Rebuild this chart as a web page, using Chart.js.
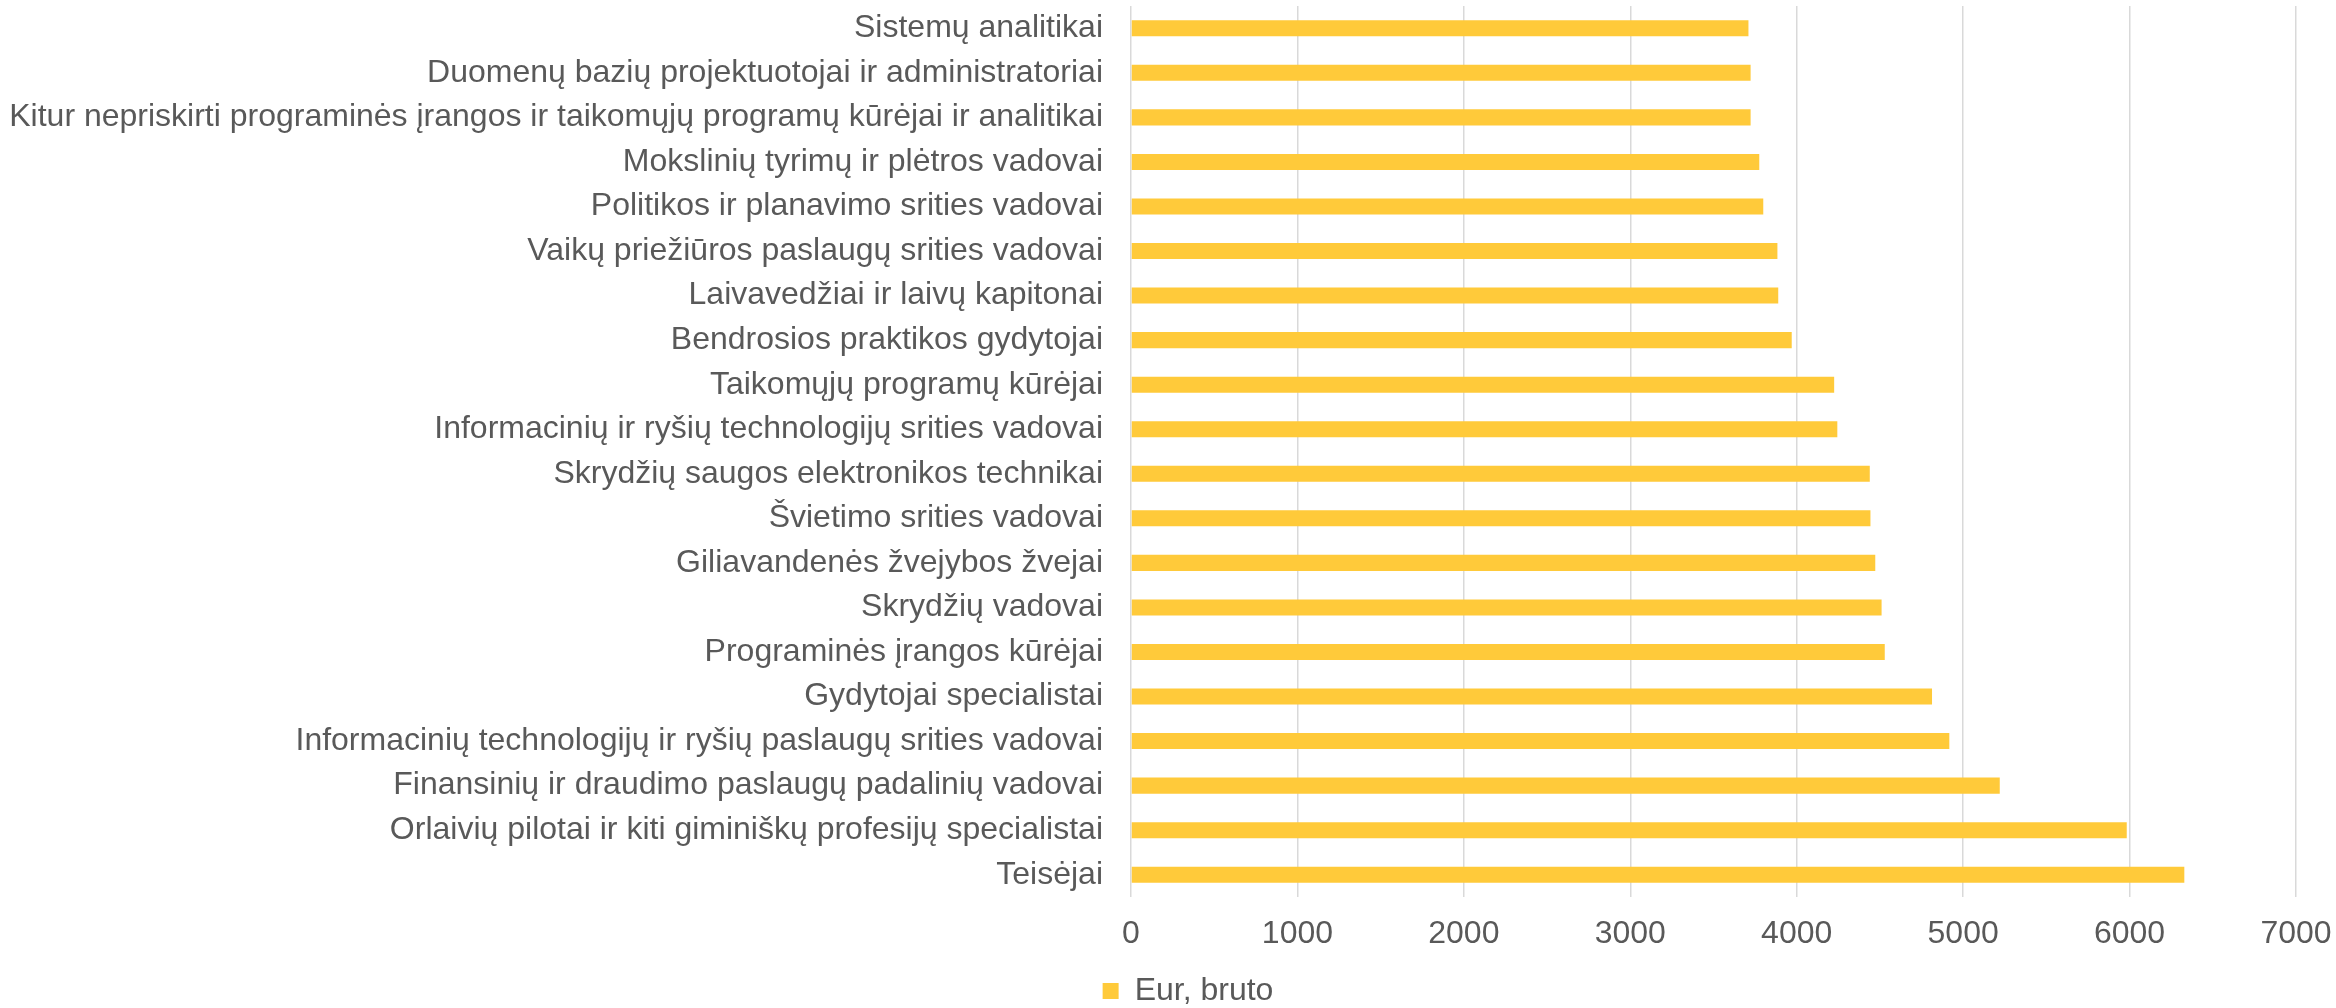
<!DOCTYPE html>
<html>
<head>
<meta charset="utf-8">
<script src="https://cdn.jsdelivr.net/npm/chart.js@4"></script>
<style>
  html, body { margin: 0; padding: 0; background: #ffffff; }
  #wrap { width: 2336px; height: 1008px; position: relative; }
</style>
</head>
<body>
<div id="wrap"><canvas id="c" width="2336" height="1008"></canvas></div>
<script>
const categories = [
  "Sistemų analitikai",
  "Duomenų bazių projektuotojai ir administratoriai",
  "Kitur nepriskirti programinės įrangos ir taikomųjų programų kūrėjai ir analitikai",
  "Mokslinių tyrimų ir plėtros vadovai",
  "Politikos ir planavimo srities vadovai",
  "Vaikų priežiūros paslaugų srities vadovai",
  "Laivavedžiai ir laivų kapitonai",
  "Bendrosios praktikos gydytojai",
  "Taikomųjų programų kūrėjai",
  "Informacinių ir ryšių technologijų srities vadovai",
  "Skrydžių saugos elektronikos technikai",
  "Švietimo srities vadovai",
  "Giliavandenės žvejybos žvejai",
  "Skrydžių vadovai",
  "Programinės įrangos kūrėjai",
  "Gydytojai specialistai",
  "Informacinių technologijų ir ryšių paslaugų srities vadovai",
  "Finansinių ir draudimo paslaugų padalinių vadovai",
  "Orlaivių pilotai ir kiti giminiškų profesijų specialistai",
  "Teisėjai"
];
const seriesName = "Eur, bruto";
const values = [3710, 3723, 3723, 3775, 3799, 3884, 3889, 3970, 4225, 4244,
                4439, 4443, 4472, 4510, 4529, 4813, 4917, 5220, 5983, 6329];
const xTicks = [0, 1000, 2000, 3000, 4000, 5000, 6000, 7000];

const FONT = "'Liberation Sans', Arial, sans-serif";
const TEXT = '#595959';
const FS = 32;

const legendShift = {
  id: 'legendShift',
  afterLayout(chart) {
    const l = chart.legend;
    if (l) { l.left += 20; l.right += 20; }
  }
};

new Chart(document.getElementById('c'), {
  type: 'bar',
  data: {
    labels: categories,
    datasets: [{
      label: seriesName,
      data: values,
      backgroundColor: 'rgb(255,202,58)',
      borderWidth: 0,
      categoryPercentage: 1.0,
      barPercentage: 0.36
    }]
  },
  options: {
    indexAxis: 'y',
    responsive: false,
    animation: false,
    devicePixelRatio: 1,
    layout: { padding: { left: 0, right: 0, top: 6, bottom: -9 } },
    font: { family: FONT },
    scales: {
      x: {
        min: xTicks[0],
        max: xTicks[xTicks.length - 1],
        afterBuildTicks: s => { s.ticks = xTicks.map(v => ({ value: v })); },
        afterFit: s => { s.height = 68; s.paddingRight = 40; s.paddingLeft = 0; },
        grid: { color: '#d9d9d9', lineWidth: 1.5, drawTicks: false },
        border: { display: false },
        ticks: {
          padding: 18,
          color: TEXT,
          font: { family: FONT, size: FS },
          callback: v => String(v)
        }
      },
      y: {
        afterFit: s => { s.width = 1131; s.paddingTop = 0; s.paddingBottom = 0; },
        grid: { display: false, drawTicks: false },
        border: { display: false },
        ticks: {
          padding: 28,
          color: TEXT,
          autoSkip: false,
          font: { family: FONT, size: FS }
        }
      }
    },
    plugins: {
      legend: {
        position: 'bottom',
        labels: {
          boxWidth: 16,
          boxHeight: 16,
          padding: 10,
          color: TEXT,
          font: { family: FONT, size: FS }
        }
      },
      tooltip: { enabled: false }
    }
  },
  plugins: [legendShift]
});
</script>
</body>
</html>
